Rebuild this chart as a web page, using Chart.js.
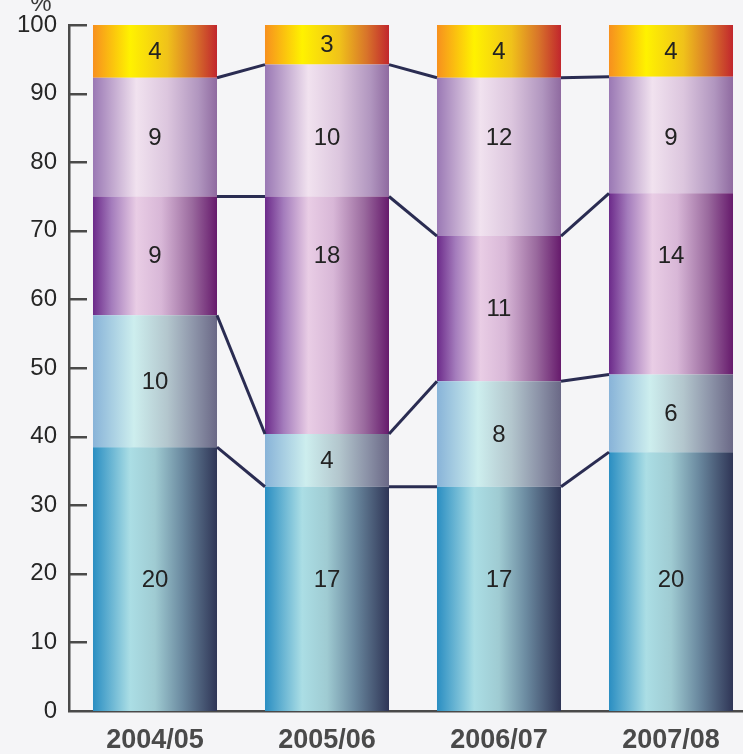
<!DOCTYPE html>
<html>
<head>
<meta charset="utf-8">
<script src="https://cdn.jsdelivr.net/npm/chart.js@4"></script>
<style>
  html, body { margin: 0; padding: 0; overflow: hidden; background: #f5f5f7; }
  #wrap { width: 757px; height: 754px; }
</style>
</head>
<body>
<div id="wrap"><canvas id="c" width="757" height="754"></canvas></div>
<script>
// ---- data ----
const categories = ['2004/05', '2005/06', '2006/07', '2007/08'];
const series1 = [20, 17, 17, 20]; // bottom (blue)
const series2 = [10, 4, 8, 6];    // light blue
const series3 = [9, 18, 11, 14];  // purple
const series4 = [9, 10, 12, 9];   // lilac
const series5 = [4, 3, 4, 4];     // top (orange/yellow)
const yTickValues = [0, 10, 20, 30, 40, 50, 60, 70, 80, 90, 100];
const yUnitLabel = '%';

const allSeries = [series1, series2, series3, series4, series5];
const totals = categories.map((_, i) => allSeries.reduce((s, a) => s + a[i], 0));
const toPct = arr => arr.map((v, i) => v / totals[i] * 100);

// gradient stops per series (left -> right across a bar)
const gradStops = [
  [[0, '#2a8ec2'], [0.3, '#abdee5'], [0.5, '#9fcbd2'], [0.72, '#6b8aa0'], [1, '#2f3556']],
  [[0, '#88b3d8'], [0.33, '#cdeeee'], [0.6, '#b3c6cd'], [0.82, '#8c93a8'], [1, '#6a6886']],
  [[0, '#6c2a8a'], [0.15, '#a47cbc'], [0.35, '#e9cde5'], [0.55, '#d8b7d7'], [0.8, '#9a6a9e'], [1, '#661a6c']],
  [[0, '#9a78b4'], [0.35, '#f1e2ef'], [0.6, '#dcc6de'], [0.85, '#b196bf'], [1, '#8f6aa0']],
  [[0, '#f7901e'], [0.3, '#fff200'], [0.6, '#f0c21a'], [0.82, '#d8742a'], [1, '#c1262d']]
];

const BAR_PCT = 0.721;

function makeBg(seriesIdx) {
  return function (ctx) {
    const chart = ctx.chart;
    const xs = chart.scales.x;
    if (!chart.chartArea || !xs || ctx.dataIndex === undefined) return gradStops[seriesIdx][1][1];
    const catW = xs.width / categories.length;
    const cx = xs.getPixelForValue(ctx.dataIndex);
    const half = catW * BAR_PCT / 2;
    const g = chart.ctx.createLinearGradient(cx - half, 0, cx + half, 0);
    gradStops[seriesIdx].forEach(s => g.addColorStop(s[0], s[1]));
    return g;
  };
}

const datasets = allSeries.map((arr, k) => ({
  label: 'S' + (k + 1),
  data: toPct(arr),
  raw: arr,
  backgroundColor: makeBg(k),
  borderWidth: 0,
  barPercentage: BAR_PCT,
  categoryPercentage: 1
}));

const AXIS_COLOR = '#4a4a4a';
const LINE_COLOR = '#2a2c52';
const FONT = '"Liberation Sans", Arial, sans-serif';

const overlayPlugin = {
  id: 'overlay',
  afterDatasetsDraw(chart) {
    const c = chart.ctx;
    const ys = chart.scales.y;
    const ds = chart.data.datasets;
    const metas = ds.map((_, k) => chart.getDatasetMeta(k));
    // connector lines between bars at each boundary
    c.save();
    c.strokeStyle = LINE_COLOR;
    c.lineWidth = 3;
    c.lineCap = 'butt';
    for (let k = 0; k < metas.length - 1; k++) {
      const els = metas[k].data;
      for (let i = 0; i < els.length - 1; i++) {
        const a = els[i], b = els[i + 1];
        c.beginPath();
        c.moveTo(a.x + a.width / 2, a.y);
        c.lineTo(b.x - b.width / 2, b.y);
        c.stroke();
      }
    }
    c.restore();
    // value labels: aligned in rows (row = first bar's segment middle) when they fit, else segment middle
    const segBounds = i => {
      let lo = 0;
      return ds.map(d => { const b = [lo, lo + d.data[i]]; lo += d.data[i]; return b; });
    };
    const rows = segBounds(0).map(b => (b[0] + b[1]) / 2);
    c.save();
    c.fillStyle = '#222222';
    c.font = '24px ' + FONT;
    c.textAlign = 'center';
    c.textBaseline = 'middle';
    categories.forEach((_, i) => {
      const bounds = segBounds(i);
      bounds.forEach((b, k) => {
        const r = rows[k];
        const v = (r >= b[0] + 4 && r <= b[1] - 4) ? r : (b[0] + b[1]) / 2;
        const el = metas[k].data[i];
        c.fillText(String(ds[k].raw[i]), el.x, ys.getPixelForValue(v) + 1);
      });
    });
    c.restore();
  },
  afterDraw(chart) {
    const c = chart.ctx;
    const ys = chart.scales.y;
    const area = chart.chartArea;
    c.save();
    c.strokeStyle = AXIS_COLOR;
    c.lineWidth = 2.5;
    yTickValues.forEach(v => {
      if (v === 0) return;
      const y = Math.round(ys.getPixelForValue(v)) + 0.25;
      c.beginPath();
      c.moveTo(area.left, y);
      c.lineTo(area.left + 18, y);
      c.stroke();
    });
    c.fillStyle = '#3a3a3a';
    c.font = '24px ' + FONT;
    c.textAlign = 'center';
    c.textBaseline = 'alphabetic';
    c.fillText(yUnitLabel, area.left - 28, area.top - 14);
    c.restore();
  }
};

new Chart(document.getElementById('c'), {
  type: 'bar',
  data: { labels: categories, datasets },
  options: {
    responsive: false,
    animation: false,
    devicePixelRatio: 1,
    layout: { padding: { top: 25, left: 0, right: 0, bottom: 0 } },
    plugins: { legend: { display: false }, tooltip: { enabled: false } },
    scales: {
      x: {
        stacked: true,
        grid: { display: false, drawTicks: false },
        border: { display: true, color: AXIS_COLOR, width: 2.5 },
        ticks: {
          color: '#4a4a4a',
          padding: 13,
          font: { family: FONT, size: 27, weight: 'bold' }
        },
        afterFit(s) { s.height = 43; s.paddingLeft = 0; s.paddingRight = 0; }
      },
      y: {
        stacked: true,
        min: 0,
        max: 100,
        grid: { display: false, drawTicks: false },
        border: { display: true, color: AXIS_COLOR, width: 2.5 },
        afterBuildTicks(s) { s.ticks = yTickValues.map(v => ({ value: v })); },
        ticks: {
          color: '#262626',
          padding: 12,
          font: { family: FONT, size: 24 }
        },
        afterFit(s) { s.width = 69; s.paddingTop = 0; s.paddingBottom = 0; }
      }
    }
  },
  plugins: [overlayPlugin]
});
</script>
</body>
</html>
